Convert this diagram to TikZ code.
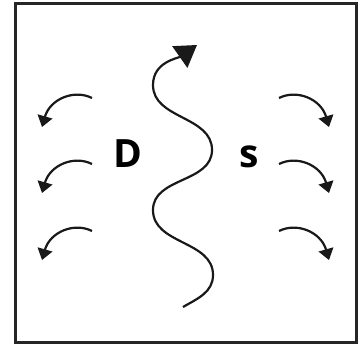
\documentclass[tikz,border=0pt]{standalone}
\usepackage{fontspec}
\setmainfont{Open Sans}
\usetikzlibrary{arrows.meta}

\begin{document}
\begin{tikzpicture}[x=1pt, y=1pt,
  frame/.style={draw=black!85, line width=2.4pt},
  letter/.style={anchor=base, inner sep=0pt, font=\fontsize{39}{42}\selectfont\bfseries},
  wave/.style={draw=black!90, line width=2.2pt, -{Triangle[length=21pt, width=26pt]}},
  flow/.style={draw=black!90, line width=2.2pt, -{Triangle[length=11pt, width=15pt]}}
]
\useasboundingbox (0,0) rectangle (361,345);
\node[frame, minimum width=341pt, minimum height=339pt, inner sep=0pt] (box) at (186,172) {};
\node[letter] (dens) at (128,177) {D};
\node[letter] (sol) at (249,177) {s};
% wavy channel
\coordinate (w0) at (183,38);
\coordinate (w1) at (197,300);
\draw[wave] (w0) to[out=30, in=-90] (213,70) to[out=90, in=-90] (153,135)
  to[out=90, in=-90] (212,195) to[out=90, in=-90] (153,260) to[out=90, in=215] (w1);
% left side
\coordinate (la1) at (92,247); \coordinate (lb1) at (42,218);
\coordinate (la2) at (92,181); \coordinate (lb2) at (42,152);
\coordinate (la3) at (92,114); \coordinate (lb3) at (42,85);
\draw[flow] (la1) .. controls (74,256) and (50,246) .. (lb1);
\draw[flow] (la2) .. controls (74,190) and (50,180) .. (lb2);
\draw[flow] (la3) .. controls (74,123) and (50,113) .. (lb3);
% right side
\coordinate (ra1) at (279,247); \coordinate (rb1) at (329,218);
\coordinate (ra2) at (279,181); \coordinate (rb2) at (329,152);
\coordinate (ra3) at (279,114); \coordinate (rb3) at (329,85);
\draw[flow] (ra1) .. controls (297,256) and (321,246) .. (rb1);
\draw[flow] (ra2) .. controls (297,190) and (321,180) .. (rb2);
\draw[flow] (ra3) .. controls (297,123) and (321,113) .. (rb3);
\end{tikzpicture}
\end{document}
